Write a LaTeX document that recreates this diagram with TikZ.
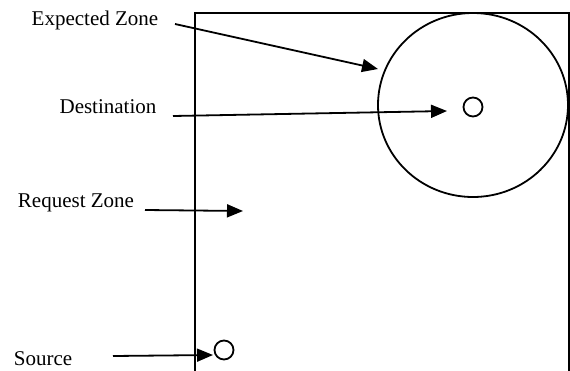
\documentclass[tikz,border=0pt]{standalone}
\usepackage{fontspec}
\setmainfont{Liberation Serif}
\usetikzlibrary{arrows.meta,shapes.geometric}
\begin{document}
\begin{tikzpicture}[x=1pt,y=-1pt,
  lbl/.style={font=\fontsize{21}{24}\selectfont, inner sep=0pt},
  ptr/.style={line width=1.8pt, -{Triangle[length=16pt,width=13pt]}},
  frame/.style={line width=1.8pt},
  ring/.style={draw, line width=1.8pt, circle, inner sep=0pt}]
\useasboundingbox (0,0) rectangle (570,370);
% open frame
\draw[frame] (195,371) -- (195,13) -- (569,13) -- (569,371);
% expected zone
\node[draw, line width=1.8pt, ellipse, inner sep=0pt, minimum width=190pt, minimum height=184pt] (zone) at (473,105) {};
\node[ring, minimum size=19pt] (dest) at (473,107) {};
\node[ring, minimum size=19pt] (src) at (224,350) {};
% labels
\node[lbl] (lexp) at (95,20) {Expected Zone};
\node[lbl] (ldst) at (108,107) {Destination};
\node[lbl] (lreq) at (76,203) {Request Zone};
\node[lbl] (lsrc) at (43,359) {Source};
% arrow end points
\coordinate (aexp0) at (175,24);
\coordinate (aexp1) at (378,69);
\coordinate (adst0) at (173,116);
\coordinate (adst1) at (447,111);
\coordinate (areq0) at (145,210);
\coordinate (areq1) at (243,211);
\coordinate (asrc0) at (113,356);
\coordinate (asrc1) at (213,355);
\draw[ptr] (aexp0) -- (aexp1);
\draw[ptr] (adst0) -- (adst1);
\draw[ptr] (areq0) -- (areq1);
\draw[ptr] (asrc0) -- (asrc1);
\end{tikzpicture}
\end{document}
